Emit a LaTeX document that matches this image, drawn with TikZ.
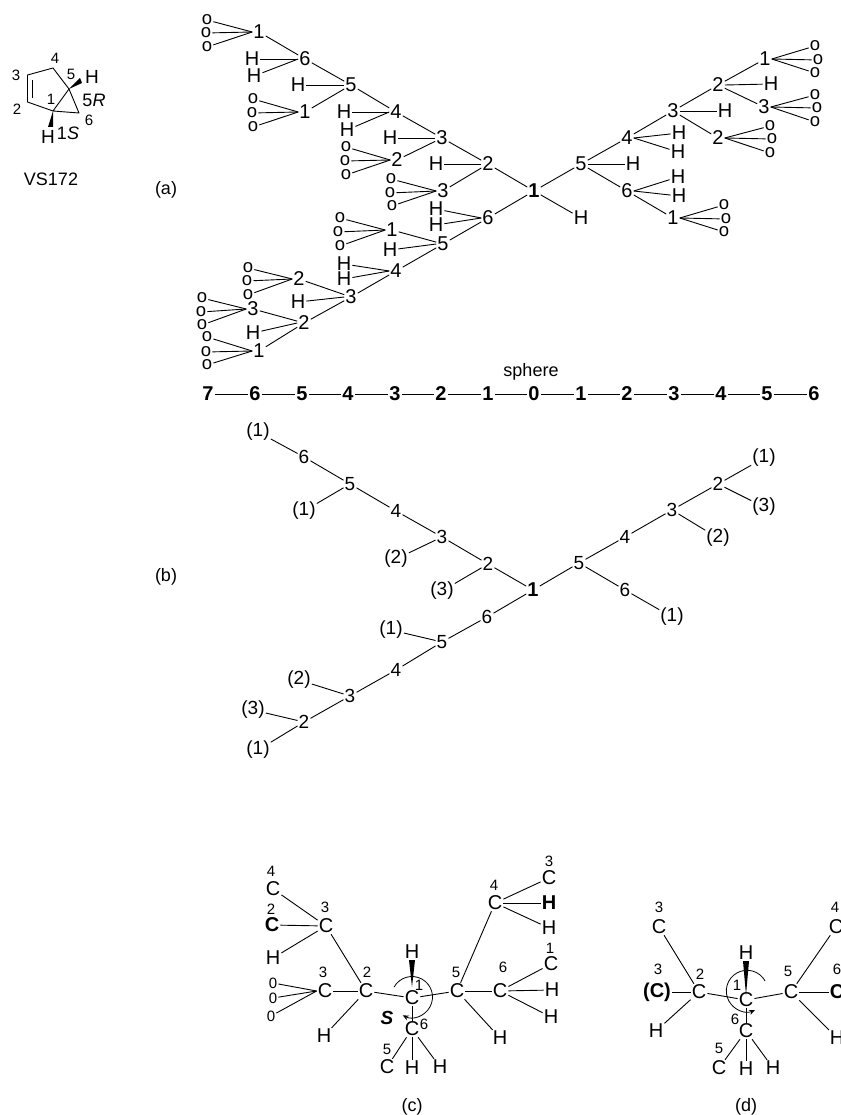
\documentclass[tikz,border=0pt]{standalone}
\usepackage{fontspec}
\setmainfont{Liberation Sans}
\usetikzlibrary{arrows.meta}
\tikzset{
  bond/.style={draw=black,line width=0.9pt},
  bigtxt/.style={inner sep=1pt,font=\fontsize{20}{20}\selectfont},
  bigb/.style={inner sep=1pt,font=\fontsize{20}{20}\selectfont\bfseries},
  midtxt/.style={inner sep=1pt,font=\fontsize{19}{19}\selectfont},
  captxt/.style={inner sep=1pt,font=\fontsize{18}{18}\selectfont},
  smalltxt/.style={inner sep=1pt,font=\fontsize{15}{15}\selectfont},
  oo/.style={inner sep=1pt,font=\fontsize{18.5}{18.5}\selectfont},
  arcc/.style={line width=0.8pt,-{Stealth[length=6pt,width=5pt]}}
}
\newcommand{\ofan}[5]{%
  \node[oo] (#1-a) at (#2) {o};
  \node[oo] (#1-b) at (#3) {o};
  \node[oo] (#1-c) at (#4) {o};
  \foreach \w in {a,b,c} \draw[bond] (#1-\w) -- (#1.#5);
}
\begin{document}
\begin{tikzpicture}[x=1pt,y=-1pt]
\useasboundingbox (0,0) rectangle (840,1115);
\clip (0,0) rectangle (840,1115);
\fill[white] (0,0) rectangle (840,1115);
% molecule
\coordinate (m1) at (53,111); \coordinate (m2) at (27.5,102); \coordinate (m3) at (27.5,75);
\coordinate (m4) at (53,68); \coordinate (m5) at (69,89); \coordinate (m6) at (79,113);
\draw[bond,line join=round] (m1) -- (m2) -- (m3) -- (m4) -- (m5) -- (m1) -- (m6) -- (m5);
\draw[bond] (32.5,80) -- (32.5,98);
\node[midtxt] (mHa) at (92,77) {H};
\node[midtxt] (mHb) at (48,137) {H};
\fill (m5) -- (82,83) -- (80,78) -- cycle;
\fill (m1) -- (53,127) -- (48,127) -- cycle;
\foreach \n/\x/\y/\t in {l4/55/58/4,l3/16/75/3,l5/71/74/5,l1/51/99/1,l2/17/109/2,l6/89/120/6}
  \node[smalltxt] (\n) at (\x,\y) {\t};
\node[captxt] (m5R) at (94,100) {5\textit{R}};
\node[captxt] (m1S) at (68,133) {1\textit{S}};
\node[captxt] (vs) at (51,179) {VS172};
\node[captxt] (capa) at (166,190) {(a)};
\node[captxt] (capb) at (166,577) {(b)};
\node[captxt] (capc) at (412,1107) {(c)};
\node[captxt] (capd) at (746,1107) {(d)};
% (a) tree
\node[bigb] (R) at (534,191) {1};
\foreach \n/\x/\y/\t in {
 a2/488/164/2,a2H/436/164/H,a3/442/138/3,a3H/390/138/H,a3b/443/191/3,
 a4/396/112/4,a4H1/344/112/H,a4H2/347/130/H,a2b/397/160/2,
 a5/351/85/5,a5H/298/85/H,a1b/305/112/1,a6/305/59/6,a6H1/252/59/H,a6H2/254/76/H,a1/259/32/1,
 b6/488/218/6,b6H1/436/209/H,b6H2/436/225/H,b5/443/244/5,b1/392/230/1,b5H/390/250/H,
 b4/396/271/4,b4H1/344/264/H,b4H2/344/279/H,b3/351/297/3,b2a/299/279/2,b3H/298/302/H,
 b2/304/323/2,b3a/253/309/3,b2H/253/333/H,b1a/259/351/1,
 RH/581/218/H,c5/581/164/5,c5H/633/164/H,c4/627/138/4,c4H1/679/133/H,c4H2/678/152/H,
 c3/673/111/3,c3H/725/111/H,c2/718/85/2,c2H/771/84/H,c1/765/59/1,c3a/764/107/3,c2b/718/138/2,
 c6/627/191/6,c6H1/678/177/H,c6H2/679/196/H,c1b/673/218/1}
  \node[bigtxt] (\n) at (\x,\y) {\t};
\foreach \p/\q in {R/a2,a2/a3,a2/a3b,a3/a4,a3/a2b,a4/a5,a5/a1b,a5/a6,a6/a1,
 R/b6,b6/b5,b5/b1,b5/b4,b4/b3,b3/b2a,b3/b2,b2/b3a,b2/b1a,
 R/RH,R/c5,c5/c4,c4/c3,c3/c2,c3/c2b,c2/c1,c2/c3a,c5/c6,c6/c1b}
  \draw[bond] (\p) -- (\q);
\foreach \p/\q in {a2H/a2.west,a3H/a3.west,a4H1/a4.west,a4H2/a4.west,a5H/a5.west,a6H1/a6.west,a6H2/a6.west,
 b6H1/b6.west,b6H2/b6.west,b5H/b5.west,b4H1/b4.west,b4H2/b4.west,b3H/b3.west,b2H/b2.west,
 c5H/c5.east,c4H1/c4.east,c4H2/c4.east,c3H/c3.east,c2H/c2.east,c6H1/c6.east,c6H2/c6.east}
  \draw[bond] (\p) -- (\q);
\ofan{a1}{207,20}{206,33}{207,47}{west}
\ofan{a1b}{253,99}{252,113}{253,127}{west}
\ofan{a2b}{346,147}{345,161}{346,175}{west}
\ofan{a3b}{391,179}{390,193}{392,206}{west}
\ofan{b1}{340,218}{338,232}{340,246}{west}
\ofan{b2a}{248,268}{247,281}{248,295}{west}
\ofan{b3a}{202,298}{201,312}{202,325}{west}
\ofan{b1a}{207,337}{206,352}{207,365}{west}
\ofan{c1}{815,46}{818,60}{815,73}{east}
\ofan{c3a}{815,95}{817,108}{815,122}{east}
\ofan{c2b}{770,126}{772,139}{770,153}{east}
\ofan{c1b}{724,205}{726,219}{724,232}{east}
% sphere row
\node[captxt] (sph) at (531,372) {sphere};
\foreach \n/\x/\t in {s0/208/7,s1/255/6,s2/302/5,s3/348/4,s4/395/3,s5/441/2,s6/488/1,s7/534/0,s8/581/1,s9/627/2,s10/674/3,s11/721/4,s12/767/5,s13/814/6}
  \node[bigb] (\n) at (\x,394) {\t};
\foreach \p/\q in {s0/s1,s1/s2,s2/s3,s3/s4,s4/s5,s5/s6,s6/s7,s7/s8,s8/s9,s9/s10,s10/s11,s11/s12,s12/s13}
  \draw[bond] (\p) -- (\q);
% (b) tree
\node[bigb] (BR) at (533,590) {1};
\foreach \n/\x/\y/\t in {
 B2/488/564/2,B3/442/537/3,B4/396/511/4,B5/350/484/5,B6/304/457/6,Ba/258/432/(1),Bb/304/511/(1),
 Bc/396/559/(2),Bd/442/591/(3),
 D6/487/617/6,D5/442/642/5,Da/391/630/(1),D4/396/670/4,D3/350/696/3,Db/299/680/(2),D2/304/722/2,Dc/253/710/(3),Dd/258/750/(1),
 E5/579/563/5,E4/625/537/4,E3/672/510/3,E2/718/484/2,Ea/764/458/(1),Eb/764/507/(3),Ec/718/538/(2),E6/625/590/6,Ed/672/617/(1)}
  \node[midtxt] (\n) at (\x,\y) {\t};
\foreach \p/\q in {BR/B2,B2/B3,B3/B4,B4/B5,B5/B6,B6/Ba,B5/Bb,B3/Bc,B2/Bd,
 BR/D6,D6/D5,D5/Da,D5/D4,D4/D3,D3/Db,D3/D2,D2/Dc,D2/Dd,
 BR/E5,E5/E4,E4/E3,E3/E2,E2/Ea,E2/Eb,E3/Ec,E5/E6,E6/Ed}
  \draw[bond] (\p) -- (\q);
% (c)
\foreach \n/\x/\y/\t in {
 p4/273/889/C,p3/326/926/C,pH/273/958/H,q3/325/991/C,q2/366/991/C,qH/324/1036/H,
 o1/412/998/C,oH/412/952/H,o6/412/1029/C,o5/387/1067/C,o6H/412/1068/H,o6I/440/1067/H,
 r5/457/991/C,r6/500/991/C,r5H/500/1038/H,s4c/495/903/C,s3c/549/878/C,s4I/549/928/H,
 t1/551/964/C,tH/552/990/H,tI/551/1017/H}
  \node[bigtxt] (\n) at (\x,\y) {\t};
\node[bigb] (p2) at (272,925) {C};
\node[bigb] (s4H) at (549,903) {H};
\foreach \n/\x/\y/\t in {n1/271/871/4,n2/271/909/2,n3/325/907/3,n4/323/972/3,n5/367/972/2,n6/419/985/1,n7/424/1024/6,
 n8/387/1049/5,n9/456/972/5,n10/503/967/6,n11/494/885/4,n12/549/861/3,n13/550/948/1}
  \node[smalltxt] (\n) at (\x,\y) {\t};
\node[smalltxt] (z1) at (273,983) {0};
\node[smalltxt] (z2) at (273,998) {0};
\node[smalltxt] (z3) at (271,1016) {0};
\foreach \p/\q in {p4/p3,p2/p3,pH/p3,p3/q2,q3/q2,q2/qH,q2/o1,o1/r5,o1/o6,o6/o5,o6/o6H,o6/o6I,
 r5/r6,r5/s4c,r5/r5H,s4c/s3c,s4c/s4H,s4c/s4I,r6/t1,r6/tH,r6/tI,z1/q3.west,z2/q3.west,z3/q3.west}
  \draw[bond] (\p) -- (\q);
\fill (412,987) -- ([xshift=3pt]oH.south) -- ([xshift=-3pt]oH.south) -- cycle;
\draw[arcc] (412,997) ++(151:20.5pt) arc[start angle=151,end angle=-117,radius=20.5pt];
\node[inner sep=1pt,font=\fontsize{19}{19}\selectfont\bfseries\itshape] (cS) at (387,1018) {S};
% (d)
\foreach \n/\x/\y/\t in {
 u3/659/927/C,u2/699/992/C,uH/656/1031/H,v1/746/1000/C,vH/746/953/H,v6/746/1031/C,v5/719/1068/C,v6H/746/1069/H,v6I/773/1068/H,
 w5/791/992/C,w4/836/927/C,w5H/837/1038/H}
  \node[bigtxt] (\n) at (\x,\y) {\t};
\node[bigb] (uC) at (657,992) {(C)};
\node[bigb] (w6) at (837,992) {C};
\foreach \n/\x/\y/\t in {k1/659/907/3,k2/658/969/3,k3/700/974/2,k4/737/985/1,k5/735/1019/6,k6/719/1048/5,k7/788/971/5,k8/835/907/4,k9/837/969/6}
  \node[smalltxt] (\n) at (\x,\y) {\t};
\foreach \p/\q in {u3/u2,uC/u2,uH/u2,u2/v1,v1/v6,v1/w5,v6/v5,v6/v6H,v6/v6I,w5/w4,w5/w6,w5/w5H}
  \draw[bond] (\p) -- (\q);
\fill (746,995) -- ([xshift=3pt]vH.south) -- ([xshift=-3pt]vH.south) -- cycle;
\draw[arcc] (747,991) ++(29:20.7pt) arc[start angle=29,end angle=293,radius=20.7pt];
\end{tikzpicture}
\end{document}
